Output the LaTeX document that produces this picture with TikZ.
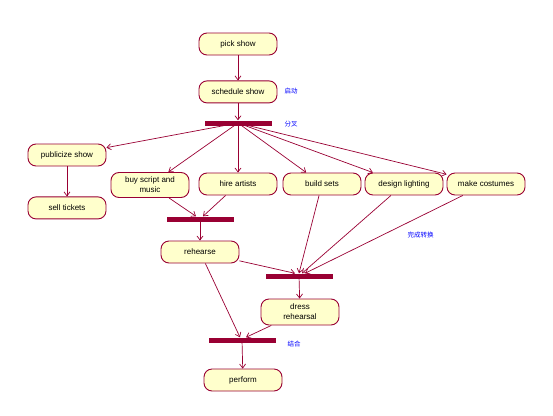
\documentclass[tikz,border=0pt]{standalone}
\usepackage{fontspec}
\setmainfont{Liberation Sans}
\newfontfamily\cjk{Noto Sans CJK SC}
\usetikzlibrary{arrows.meta,positioning}
\definecolor{umlred}{RGB}{153,0,51}
\definecolor{umlfill}{RGB}{255,255,204}
\definecolor{umlblue}{RGB}{0,0,255}

\begin{document}
\begin{tikzpicture}[x=1pt,y=-1pt,
  act/.style={draw=umlred,fill=umlfill,line width=0.9pt,rounded corners=8pt,
    minimum width=78pt,minimum height=22pt,inner sep=1pt,align=center,
    font=\fontsize{8}{10}\selectfont},
  bar/.style={fill=umlred,minimum width=67pt,minimum height=5pt,inner sep=0pt},
  note/.style={text=umlblue,anchor=west,font=\cjk\fontsize{6.5}{7}\selectfont},
  flow/.style={draw=umlred,line width=0.7pt,-{Straight Barb[length=4pt,width=6pt]}}]
  \useasboundingbox (0,0) rectangle (553,415);
  % main line
  \node[act] (pick) at (238,44) {pick show};
  \node[act,below=25pt of pick] (schedule) {schedule show};
  \node[bar] (fork) at (238,123) {};
  \node[note] (start) at (281,91) {启动};
  \node[note] (split) at (281,124) {分叉};
  % parallel activities
  \node[act] (publicize) at (67,155) {publicize show};
  \node[act,below=30pt of publicize] (tickets) {sell tickets};
  \node[act,minimum height=25pt] (script) at (150,185) {buy script and\\music};
  \node[act] (artists) at (238,184) {hire artists};
  \node[act] (sets) at (322,184) {build sets};
  \node[act] (lighting) at (404,184) {design lighting};
  \node[act] (costumes) at (486,184) {make costumes};
  % joins
  \node[bar] (join1) at (200,219) {};
  \node[act] (rehearse) at (200,252) {rehearse};
  \node[bar] (join2) at (299,276) {};
  \node[note] (done) at (404,235) {完成转换};
  \node[act,minimum height=26pt] (dress) at (300,312) {dress\\rehearsal};
  \node[bar] (join3) at (242,340) {};
  \node[note] (merge) at (284,344) {结合};
  \node[act] (perform) at (243,380) {perform};
  % flows
  \draw[flow] (pick) -- (schedule);
  \draw[flow] (schedule) -- (fork);
  \draw[flow] (fork) -- (publicize);
  \draw[flow] (fork) -- (script);
  \draw[flow] (fork) -- (artists);
  \draw[flow] (fork) -- (sets);
  \draw[flow] (fork) -- (lighting);
  \draw[flow] (fork) -- (costumes);
  \draw[flow] (publicize) -- (tickets);
  \draw[flow] (script) -- ([xshift=-4pt]join1.north);
  \draw[flow] (artists) -- ([xshift=3pt]join1.north);
  \draw[flow] (join1) -- (rehearse);
  \draw[flow] (rehearse) -- ([xshift=-4pt]join2.north);
  \draw[flow] (sets) -- (join2.north);
  \draw[flow] (lighting) -- ([xshift=3pt]join2.north);
  \draw[flow] (costumes) -- ([xshift=6pt]join2.north);
  \draw[flow] (join2) -- (dress);
  \draw[flow] (rehearse) -- ([xshift=-2pt]join3.north);
  \draw[flow] (dress) -- ([xshift=4pt]join3.north);
  \draw[flow] (join3) -- (perform);
\end{tikzpicture}
\end{document}
